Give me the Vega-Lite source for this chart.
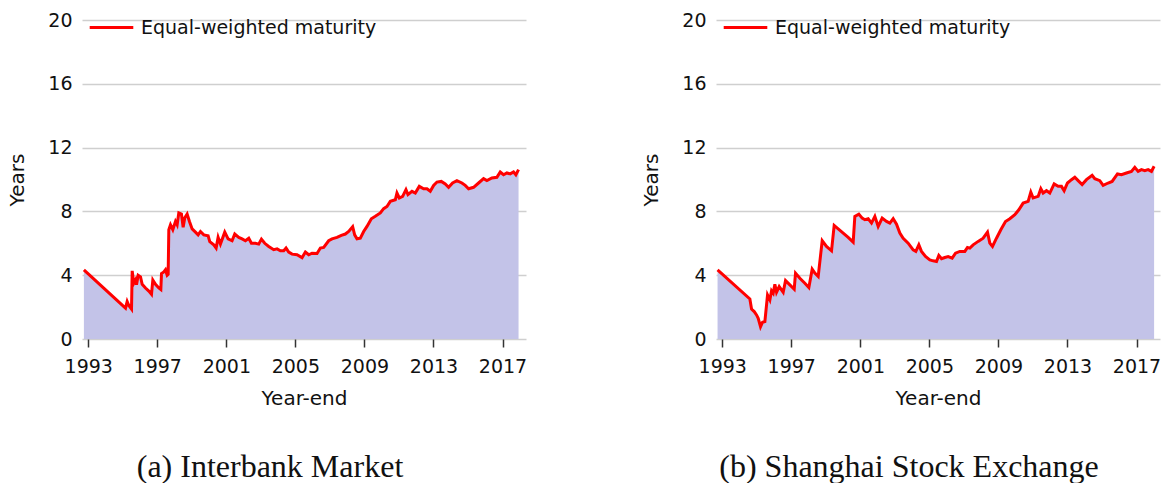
{
  "$schema": "https://vega.github.io/schema/vega-lite/v6.json",
  "background": "white",
  "padding": {"left": 7, "top": 4, "right": 2, "bottom": 0},
  "spacing": 114,
  "config": {
    "view": {"stroke": null},
    "font": "DejaVu Sans",
    "axis": {
      "labelFont": "DejaVu Sans", "labelFontSize": 19, "labelColor": "#111111",
      "titleFont": "DejaVu Sans", "titleFontSize": 20, "titleFontWeight": "normal", "titleColor": "#111111",
      "domain": false
    },
    "axisY": {"ticks": false, "grid": true, "gridColor": "#cfcfcf", "gridWidth": 1.5, "labelPadding": 10, "titlePadding": 20},
    "axisX": {"grid": false, "tickSize": 8, "tickColor": "#333333", "tickWidth": 1.5, "labelPadding": 10, "titlePadding": 12},
    "legend": {"labelFont": "DejaVu Sans", "labelFontSize": 19, "labelColor": "#111111", "labelLimit": 0, "symbolType": "stroke", "symbolSize": 1900, "symbolStrokeWidth": 3, "labelOffset": 6, "padding": 0}
  },
  "datasets": {
    "ib": [
      {"year": 1992.75, "maturity": 4.34}, {"year": 1995.161, "maturity": 1.93}, {"year": 1995.257, "maturity": 2.35}, {"year": 1995.354, "maturity": 2.1}, {"year": 1995.508, "maturity": 1.88}, {"year": 1995.547, "maturity": 4.27}, {"year": 1995.643, "maturity": 3.5}, {"year": 1995.74, "maturity": 3.7}, {"year": 1995.798, "maturity": 3.4}, {"year": 1995.894, "maturity": 4.0}, {"year": 1996.029, "maturity": 3.9}, {"year": 1996.126, "maturity": 3.43}, {"year": 1996.319, "maturity": 3.2}, {"year": 1996.511, "maturity": 3.0}, {"year": 1996.666, "maturity": 2.8}, {"year": 1996.743, "maturity": 3.7}, {"year": 1996.897, "maturity": 3.43}, {"year": 1997.09, "maturity": 3.2}, {"year": 1997.206, "maturity": 3.1}, {"year": 1997.245, "maturity": 4.1}, {"year": 1997.38, "maturity": 4.2}, {"year": 1997.476, "maturity": 4.34}, {"year": 1997.573, "maturity": 4.0}, {"year": 1997.631, "maturity": 4.06}, {"year": 1997.669, "maturity": 6.85}, {"year": 1997.766, "maturity": 7.16}, {"year": 1997.901, "maturity": 6.85}, {"year": 1998.055, "maturity": 7.37}, {"year": 1998.151, "maturity": 7.16}, {"year": 1998.248, "maturity": 7.9}, {"year": 1998.402, "maturity": 7.83}, {"year": 1998.499, "maturity": 7.0}, {"year": 1998.595, "maturity": 7.6}, {"year": 1998.73, "maturity": 7.83}, {"year": 1998.865, "maturity": 7.37}, {"year": 1999.02, "maturity": 6.9}, {"year": 1999.213, "maturity": 6.7}, {"year": 1999.367, "maturity": 6.53}, {"year": 1999.502, "maturity": 6.74}, {"year": 1999.695, "maturity": 6.53}, {"year": 1999.946, "maturity": 6.47}, {"year": 2000.042, "maturity": 6.1}, {"year": 2000.274, "maturity": 5.9}, {"year": 2000.409, "maturity": 5.7}, {"year": 2000.525, "maturity": 6.37}, {"year": 2000.66, "maturity": 5.95}, {"year": 2000.91, "maturity": 6.7}, {"year": 2001.103, "maturity": 6.28}, {"year": 2001.335, "maturity": 6.16}, {"year": 2001.489, "maturity": 6.58}, {"year": 2001.721, "maturity": 6.37}, {"year": 2001.914, "maturity": 6.28}, {"year": 2002.107, "maturity": 6.16}, {"year": 2002.3, "maturity": 6.32}, {"year": 2002.454, "maturity": 6.0}, {"year": 2002.685, "maturity": 6.0}, {"year": 2002.878, "maturity": 5.95}, {"year": 2003.033, "maturity": 6.26}, {"year": 2003.226, "maturity": 6.0}, {"year": 2003.457, "maturity": 5.8}, {"year": 2003.747, "maturity": 5.6}, {"year": 2003.94, "maturity": 5.65}, {"year": 2004.133, "maturity": 5.53}, {"year": 2004.326, "maturity": 5.53}, {"year": 2004.461, "maturity": 5.7}, {"year": 2004.615, "maturity": 5.45}, {"year": 2004.808, "maturity": 5.32}, {"year": 2005.097, "maturity": 5.28}, {"year": 2005.387, "maturity": 5.1}, {"year": 2005.58, "maturity": 5.45}, {"year": 2005.773, "maturity": 5.28}, {"year": 2005.965, "maturity": 5.38}, {"year": 2006.255, "maturity": 5.36}, {"year": 2006.448, "maturity": 5.7}, {"year": 2006.641, "maturity": 5.74}, {"year": 2006.93, "maturity": 6.16}, {"year": 2007.123, "maturity": 6.28}, {"year": 2007.413, "maturity": 6.37}, {"year": 2007.663, "maturity": 6.5}, {"year": 2007.895, "maturity": 6.58}, {"year": 2008.088, "maturity": 6.74}, {"year": 2008.319, "maturity": 7.04}, {"year": 2008.435, "maturity": 6.53}, {"year": 2008.57, "maturity": 6.28}, {"year": 2008.763, "maturity": 6.32}, {"year": 2008.956, "maturity": 6.74}, {"year": 2009.149, "maturity": 7.06}, {"year": 2009.4, "maturity": 7.54}, {"year": 2009.631, "maturity": 7.69}, {"year": 2009.921, "maturity": 7.9}, {"year": 2010.114, "maturity": 8.17}, {"year": 2010.307, "maturity": 8.31}, {"year": 2010.5, "maturity": 8.63}, {"year": 2010.789, "maturity": 8.73}, {"year": 2010.885, "maturity": 9.15}, {"year": 2011.021, "maturity": 8.84}, {"year": 2011.214, "maturity": 8.94}, {"year": 2011.406, "maturity": 9.36}, {"year": 2011.522, "maturity": 9.05}, {"year": 2011.754, "maturity": 9.26}, {"year": 2011.947, "maturity": 9.15}, {"year": 2012.178, "maturity": 9.57}, {"year": 2012.429, "maturity": 9.42}, {"year": 2012.622, "maturity": 9.42}, {"year": 2012.815, "maturity": 9.26}, {"year": 2013.008, "maturity": 9.63}, {"year": 2013.201, "maturity": 9.84}, {"year": 2013.451, "maturity": 9.88}, {"year": 2013.683, "maturity": 9.72}, {"year": 2013.876, "maturity": 9.51}, {"year": 2014.107, "maturity": 9.78}, {"year": 2014.358, "maturity": 9.93}, {"year": 2014.647, "maturity": 9.78}, {"year": 2014.841, "maturity": 9.63}, {"year": 2015.034, "maturity": 9.42}, {"year": 2015.323, "maturity": 9.51}, {"year": 2015.613, "maturity": 9.78}, {"year": 2015.902, "maturity": 10.05}, {"year": 2016.095, "maturity": 9.93}, {"year": 2016.384, "maturity": 10.1}, {"year": 2016.674, "maturity": 10.14}, {"year": 2016.867, "maturity": 10.47}, {"year": 2017.06, "maturity": 10.3}, {"year": 2017.253, "maturity": 10.41}, {"year": 2017.446, "maturity": 10.35}, {"year": 2017.639, "maturity": 10.47}, {"year": 2017.773, "maturity": 10.3}, {"year": 2017.928, "maturity": 10.62}
    ],
    "sse": [
      {"year": 1992.73, "maturity": 4.34}, {"year": 1994.602, "maturity": 2.51}, {"year": 1994.699, "maturity": 1.88}, {"year": 1994.853, "maturity": 1.72}, {"year": 1994.988, "maturity": 1.51}, {"year": 1995.085, "maturity": 1.3}, {"year": 1995.22, "maturity": 0.77}, {"year": 1995.336, "maturity": 1.05}, {"year": 1995.471, "maturity": 1.09}, {"year": 1995.625, "maturity": 2.76}, {"year": 1995.761, "maturity": 2.45}, {"year": 1995.857, "maturity": 3.02}, {"year": 1995.954, "maturity": 2.87}, {"year": 1996.05, "maturity": 3.43}, {"year": 1996.147, "maturity": 2.93}, {"year": 1996.301, "maturity": 3.29}, {"year": 1996.533, "maturity": 2.93}, {"year": 1996.668, "maturity": 3.66}, {"year": 1996.919, "maturity": 3.39}, {"year": 1997.17, "maturity": 3.12}, {"year": 1997.247, "maturity": 4.13}, {"year": 1997.498, "maturity": 3.81}, {"year": 1997.788, "maturity": 3.5}, {"year": 1998.019, "maturity": 3.23}, {"year": 1998.212, "maturity": 4.38}, {"year": 1998.367, "maturity": 4.13}, {"year": 1998.56, "maturity": 3.92}, {"year": 1998.792, "maturity": 6.16}, {"year": 1999.042, "maturity": 5.8}, {"year": 1999.332, "maturity": 5.53}, {"year": 1999.486, "maturity": 7.12}, {"year": 1999.718, "maturity": 6.91}, {"year": 2000.008, "maturity": 6.64}, {"year": 2000.297, "maturity": 6.37}, {"year": 2000.587, "maturity": 6.07}, {"year": 2000.683, "maturity": 7.69}, {"year": 2000.915, "maturity": 7.83}, {"year": 2001.108, "maturity": 7.58}, {"year": 2001.263, "maturity": 7.48}, {"year": 2001.456, "maturity": 7.54}, {"year": 2001.649, "maturity": 7.27}, {"year": 2001.842, "maturity": 7.69}, {"year": 2002.035, "maturity": 7.06}, {"year": 2002.266, "maturity": 7.58}, {"year": 2002.517, "maturity": 7.37}, {"year": 2002.71, "maturity": 7.27}, {"year": 2002.903, "maturity": 7.54}, {"year": 2003.097, "maturity": 7.2}, {"year": 2003.29, "maturity": 6.64}, {"year": 2003.483, "maturity": 6.32}, {"year": 2003.772, "maturity": 6.01}, {"year": 2004.062, "maturity": 5.59}, {"year": 2004.216, "maturity": 5.49}, {"year": 2004.39, "maturity": 5.9}, {"year": 2004.544, "maturity": 5.49}, {"year": 2004.776, "maturity": 5.17}, {"year": 2005.027, "maturity": 4.96}, {"year": 2005.22, "maturity": 4.9}, {"year": 2005.413, "maturity": 4.86}, {"year": 2005.548, "maturity": 5.24}, {"year": 2005.703, "maturity": 5.03}, {"year": 2005.896, "maturity": 5.11}, {"year": 2006.089, "maturity": 5.17}, {"year": 2006.32, "maturity": 5.07}, {"year": 2006.514, "maturity": 5.38}, {"year": 2006.764, "maturity": 5.49}, {"year": 2007.054, "maturity": 5.49}, {"year": 2007.208, "maturity": 5.74}, {"year": 2007.344, "maturity": 5.7}, {"year": 2007.537, "maturity": 5.9}, {"year": 2007.826, "maturity": 6.12}, {"year": 2008.116, "maturity": 6.32}, {"year": 2008.367, "maturity": 6.7}, {"year": 2008.502, "maturity": 6.01}, {"year": 2008.656, "maturity": 5.8}, {"year": 2008.888, "maturity": 6.32}, {"year": 2009.139, "maturity": 6.85}, {"year": 2009.409, "maturity": 7.37}, {"year": 2009.66, "maturity": 7.54}, {"year": 2009.95, "maturity": 7.79}, {"year": 2010.181, "maturity": 8.1}, {"year": 2010.432, "maturity": 8.52}, {"year": 2010.722, "maturity": 8.63}, {"year": 2010.876, "maturity": 9.21}, {"year": 2011.012, "maturity": 8.84}, {"year": 2011.301, "maturity": 8.94}, {"year": 2011.456, "maturity": 9.42}, {"year": 2011.591, "maturity": 9.15}, {"year": 2011.784, "maturity": 9.3}, {"year": 2011.977, "maturity": 9.15}, {"year": 2012.228, "maturity": 9.72}, {"year": 2012.459, "maturity": 9.57}, {"year": 2012.653, "maturity": 9.57}, {"year": 2012.807, "maturity": 9.3}, {"year": 2013.0, "maturity": 9.78}, {"year": 2013.232, "maturity": 9.99}, {"year": 2013.425, "maturity": 10.14}, {"year": 2013.618, "maturity": 9.93}, {"year": 2013.849, "maturity": 9.68}, {"year": 2014.1, "maturity": 9.99}, {"year": 2014.429, "maturity": 10.26}, {"year": 2014.583, "maturity": 10.05}, {"year": 2014.873, "maturity": 9.93}, {"year": 2015.066, "maturity": 9.63}, {"year": 2015.355, "maturity": 9.78}, {"year": 2015.587, "maturity": 9.88}, {"year": 2015.896, "maturity": 10.35}, {"year": 2016.127, "maturity": 10.3}, {"year": 2016.417, "maturity": 10.41}, {"year": 2016.707, "maturity": 10.51}, {"year": 2016.9, "maturity": 10.76}, {"year": 2017.093, "maturity": 10.51}, {"year": 2017.286, "maturity": 10.62}, {"year": 2017.479, "maturity": 10.56}, {"year": 2017.672, "maturity": 10.62}, {"year": 2017.865, "maturity": 10.51}, {"year": 2018.019, "maturity": 10.83}
    ]
  },
  "resolve": {"scale": {"color": "independent"}, "legend": {"color": "independent"}},
  "hconcat": [
    {
      "width": 444, "height": 319,
      "data": {"name": "ib"},
      "title": {"text": "(a) Interbank Market", "orient": "bottom", "anchor": "middle", "font": "Liberation Serif", "fontSize": 32, "fontWeight": "normal", "color": "#111111", "offset": 44, "dx": -34},
      "encoding": {
        "x": {"field": "year", "type": "quantitative", "scale": {"domain": [1992.64, 2018.36], "nice": false, "zero": false}, "axis": {"values": [1993, 1997, 2001, 2005, 2009, 2013, 2017], "format": "d", "title": "Year-end"}},
        "y": {"field": "maturity", "type": "quantitative", "scale": {"domain": [0, 20], "nice": false}, "axis": {"values": [0, 4, 8, 12, 16, 20], "title": "Years"}}
      },
      "layer": [
        {"mark": {"type": "area", "color": "#c3c3e8", "opacity": 1}},
        {"mark": {"type": "line", "strokeWidth": 3}, "encoding": {"color": {"datum": "Equal-weighted maturity", "scale": {"range": ["#ff0000"]}, "legend": {"title": null, "orient": "none", "legendX": 6, "legendY": -16}}}}
      ]
    },
    {
      "width": 444, "height": 319,
      "data": {"name": "sse"},
      "title": {"text": "(b) Shanghai Stock Exchange", "orient": "bottom", "anchor": "middle", "font": "Liberation Serif", "fontSize": 32, "fontWeight": "normal", "color": "#111111", "offset": 44, "dx": -29},
      "encoding": {
        "x": {"field": "year", "type": "quantitative", "scale": {"domain": [1992.64, 2018.36], "nice": false, "zero": false}, "axis": {"values": [1993, 1997, 2001, 2005, 2009, 2013, 2017], "format": "d", "title": "Year-end"}},
        "y": {"field": "maturity", "type": "quantitative", "scale": {"domain": [0, 20], "nice": false}, "axis": {"values": [0, 4, 8, 12, 16, 20], "title": "Years"}}
      },
      "layer": [
        {"mark": {"type": "area", "color": "#c3c3e8", "opacity": 1}},
        {"mark": {"type": "line", "strokeWidth": 3}, "encoding": {"color": {"datum": "Equal-weighted maturity", "scale": {"range": ["#ff0000"]}, "legend": {"title": null, "orient": "none", "legendX": 6, "legendY": -16}}}}
      ]
    }
  ]
}
